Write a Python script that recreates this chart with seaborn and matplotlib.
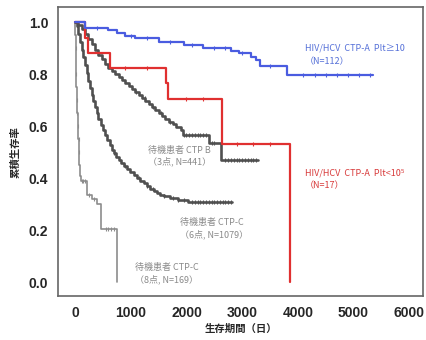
import matplotlib
matplotlib.use("Agg")
import matplotlib.pyplot as plt
import seaborn as sns
import numpy as np
import pandas as pd

sns.set_style("white")
plt.rcParams['font.family'] = ['Liberation Sans', 'Noto Sans CJK JP', 'DejaVu Sans']

# DATA HERE (Kaplan-Meier steps: time in days, survival after the step)
blue_t = [0, 180, 600, 750, 900, 1080, 1500, 1950, 2300, 2800, 2950, 3150, 3250, 3320, 3800, 5350]
blue_s = [1.0, 0.977, 0.97, 0.958, 0.947, 0.938, 0.925, 0.912, 0.90, 0.888, 0.88, 0.868, 0.855, 0.83, 0.796, 0.796]
blue_c = [400, 1000, 1300, 1700, 2100, 2500, 2700, 3000, 3500, 4100, 4300, 4500, 4700, 4900, 5100, 5300]

red_t = [0, 180, 240, 630, 1630, 1670, 2640, 3860]
red_s = [1.0, 0.941, 0.882, 0.824, 0.765, 0.706, 0.53, 0.0]
red_c = [900, 1300, 2000, 2300, 2900, 3200, 3500]

ctpb_t = [0, 60, 120, 180, 240, 300, 360, 420, 480, 540, 600, 660, 720, 780, 840, 900,
          960, 1020, 1080, 1140, 1200, 1260, 1320, 1380, 1440, 1500, 1560, 1620, 1680,
          1750, 1820, 1900, 1940, 2400, 2620, 3290]
ctpb_s = [1.0, 0.99, 0.975, 0.955, 0.935, 0.915, 0.895, 0.875, 0.858, 0.84, 0.825, 0.812,
          0.80, 0.788, 0.777, 0.767, 0.755, 0.743, 0.732, 0.72, 0.709, 0.697, 0.686, 0.675,
          0.663, 0.652, 0.64, 0.628, 0.617, 0.607, 0.598, 0.585, 0.565, 0.535, 0.47, 0.47]
ctpb_c = [1100, 1250, 1400, 1550, 1700, 1950, 2000, 2050, 2100, 2150, 2200, 2250, 2300, 2350,
          2450, 2500, 2700, 2750, 2800, 2850, 2900, 2950, 3000, 3050, 3100, 3150, 3200, 3250]

c6_t = [0, 30, 60, 90, 120, 150, 180, 210, 240, 270, 300, 330, 360, 390, 420, 460, 500,
        540, 580, 620, 660, 700, 740, 780, 830, 880, 930, 990, 1050, 1110, 1170, 1230,
        1290, 1350, 1410, 1470, 1530, 1600, 1700, 1850, 2030, 2820]
c6_s = [1.0, 0.985, 0.955, 0.925, 0.895, 0.865, 0.835, 0.805, 0.775, 0.748, 0.72, 0.695,
        0.672, 0.65, 0.628, 0.605, 0.585, 0.565, 0.545, 0.527, 0.51, 0.495, 0.482, 0.47,
        0.458, 0.447, 0.435, 0.423, 0.412, 0.401, 0.39, 0.38, 0.37, 0.36, 0.35, 0.342,
        0.335, 0.33, 0.322, 0.315, 0.308, 0.308]
c6_c = [700, 900, 1150, 1300, 1400, 1600, 1750, 1850, 1950, 2100, 2150, 2200, 2250, 2300,
        2350, 2400, 2450, 2500, 2550, 2600, 2650, 2700, 2750, 2800]

c8_t = [0, 5, 10, 15, 20, 25, 30, 38, 45, 55, 65, 75, 85, 100, 215, 300, 390, 470, 755]
c8_s = [1.0, 0.95, 0.9, 0.85, 0.8, 0.75, 0.7, 0.65, 0.6, 0.55, 0.5, 0.45, 0.41, 0.39, 0.335,
        0.32, 0.30, 0.206, 0.0]
c8_c = [12, 22, 33, 42, 52, 62, 72, 120, 150, 180, 250, 340, 550, 600, 650, 700]

groups = [
    (c8_t, c8_s, c8_c, "#8c8c8c", 1.2),
    (c6_t, c6_s, c6_c, "#505050", 1.9),
    (ctpb_t, ctpb_s, ctpb_c, "#505050", 1.9),
    (red_t, red_s, red_c, "#e03030", 1.6),
    (blue_t, blue_s, blue_c, "#4a5ce0", 1.6),
]

fig = plt.figure(figsize=(4.27, 3.40), dpi=100)
ax = fig.add_axes([0.136, 0.129, 0.855, 0.850])

for t, s, c, col, lw in groups:
    df = pd.DataFrame({"t": t, "s": s})
    sns.lineplot(data=df, x="t", y="s", drawstyle="steps-post", color=col,
                 lw=lw, estimator=None, sort=False, ax=ax)
    # censor marks sit on the curve
    idx = np.searchsorted(np.array(t), np.array(c), side="right") - 1
    cy = np.array(s)[idx]
    ax.plot(c, cy, linestyle="none", marker="|", markersize=3.5,
            markeredgewidth=0.8, color=col)

# labels
lab_kw = dict(fontsize=6.5, ha="left", va="center", family=['Noto Sans CJK JP', 'DejaVu Sans'])
ax.text(4130, 0.90, "HIV/HCV  CTP-A  Plt≥10", color="#5570d8", **lab_kw)
ax.text(4130, 0.85, "（N=112）", color="#5570d8", **lab_kw)
ax.text(4130, 0.42, "HIV/HCV  CTP-A  Plt<10⁵", color="#d83a3a", **lab_kw)
ax.text(4130, 0.37, "（N=17）", color="#d83a3a", **lab_kw)
ax.text(1310, 0.508, "待機患者 CTP B", color="#8a8a8a", **lab_kw)
ax.text(1310, 0.465, "（3点, N=441）", color="#8a8a8a", **lab_kw)
ax.text(1885, 0.23, "待機患者 CTP-C", color="#8a8a8a", **lab_kw)
ax.text(1885, 0.185, "（6点, N=1079）", color="#8a8a8a", **lab_kw)
ax.text(1077, 0.058, "待機患者 CTP-C", color="#8a8a8a", **lab_kw)
ax.text(1077, 0.012, "（8点, N=169）", color="#8a8a8a", **lab_kw)

ax.set_xlim(-305, 6250)
ax.set_ylim(-0.054, 1.058)
ax.set_xticks(range(0, 6001, 1000))
ax.set_yticks([0.0, 0.2, 0.4, 0.6, 0.8, 1.0])
ax.set_yticklabels([f"{v:.1f}" for v in [0.0, 0.2, 0.4, 0.6, 0.8, 1.0]])
ax.tick_params(axis="both", direction="out", length=4, width=1, color="#555555",
               labelsize=10, pad=3)
for lab in ax.get_xticklabels() + ax.get_yticklabels():
    lab.set_fontweight("bold")
for sp in ax.spines.values():
    sp.set_color("#666666")
    sp.set_linewidth(1.2)

ax.set_xlabel("生存期間（日）", fontsize=7.5, fontweight="bold",
              family=['Noto Sans CJK JP', 'DejaVu Sans'], labelpad=3)
ax.set_ylabel("累積生存率", fontsize=7.5, fontweight="bold",
              family=['Noto Sans CJK JP', 'DejaVu Sans'], labelpad=6)

fig.savefig("out.png", dpi=100)
